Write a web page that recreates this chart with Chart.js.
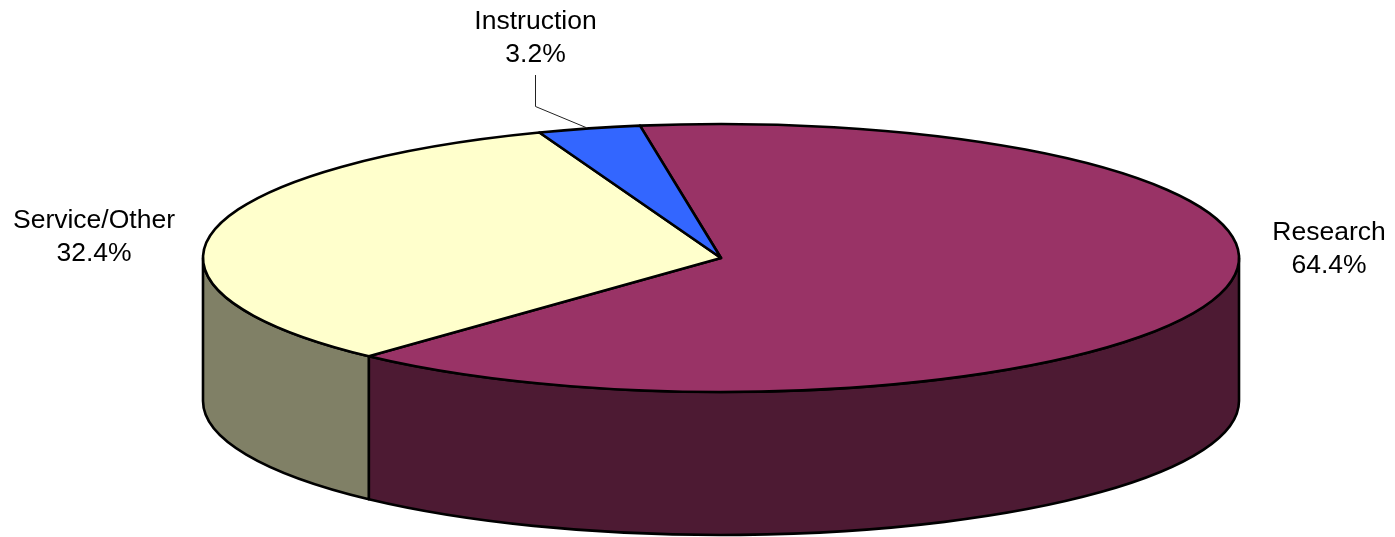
<!DOCTYPE html>
<html>
<head>
<meta charset="utf-8">
<title>Pie</title>
<script src="https://cdn.jsdelivr.net/npm/chart.js@4/dist/chart.umd.min.js"></script>
<style>
    html, body { margin: 0; padding: 0; background: #fff; }
    canvas { display: block; }
</style>
</head>
<body>
<canvas id="pie-chart" width="1395" height="537"></canvas>
<script>
const categories = ["Research", "Service/Other", "Instruction"];
const shares = [64.4, 32.4, 3.2];

const topColors = ["#993366", "#FFFFCC", "#3366FF"];
const sideColors = ["#4D1A33", "#808066", "#1A3380"];

// how the flat pie gets tipped over
const squash = 134 / 518;
const depth = 143;

// Chart.js has no 3D pie, so keep its arcs but paint them as ellipses
class TiltedPieController extends Chart.PieController {
    draw() {
        const ctx = this.chart.ctx;
        const arcs = this._cachedMeta.data;

        ctx.save();
        ctx.lineWidth = 2.6;
        ctx.lineJoin = "round";
        ctx.strokeStyle = "#000";

        arcs.forEach((arc, i) => {
            const ry = arc.outerRadius * squash;
            // only the part of the rim facing the viewer gets a wall
            for (let k = -1; k <= 1; k++) {
                const from = Math.max(arc.startAngle, 2 * Math.PI * k);
                const to = Math.min(arc.endAngle, Math.PI + 2 * Math.PI * k);
                if (from >= to) continue;
                ctx.beginPath();
                ctx.ellipse(arc.x, arc.y, arc.outerRadius, ry, 0, from, to);
                ctx.ellipse(arc.x, arc.y + depth, arc.outerRadius, ry, 0, to, from, true);
                ctx.closePath();
                ctx.fillStyle = sideColors[i];
                ctx.fill();
                ctx.stroke();
            }
        });

        arcs.forEach((arc) => {
            ctx.beginPath();
            ctx.moveTo(arc.x, arc.y);
            ctx.ellipse(arc.x, arc.y, arc.outerRadius, arc.outerRadius * squash, 0, arc.startAngle, arc.endAngle);
            ctx.closePath();
            ctx.fillStyle = arc.options.backgroundColor;
            ctx.fill();
            ctx.stroke();
        });
        ctx.restore();
    }
}
TiltedPieController.id = "tiltedPie";
TiltedPieController.defaults = {};
Chart.register(TiltedPieController);

const labelSpots = [
    { x: 1329, y: 233 },
    { x: 94, y: 221 },
    { x: 535.5, y: 22 }
];

const sliceLabels = {
    id: "sliceLabels",
    afterDraw(chart) {
        const ctx = chart.ctx;
        ctx.save();

        // leader line for the small slice
        ctx.beginPath();
        ctx.moveTo(535.5, 75);
        ctx.lineTo(535.5, 106.5);
        ctx.lineTo(586, 127.5);
        ctx.lineWidth = 1;
        ctx.strokeStyle = "#222";
        ctx.stroke();

        ctx.font = '26.5px "Liberation Sans"';
        ctx.fillStyle = "#000";
        ctx.textAlign = "center";
        ctx.textBaseline = "middle";
        categories.forEach((name, i) => {
            ctx.fillText(name, labelSpots[i].x, labelSpots[i].y);
            ctx.fillText(shares[i].toFixed(1) + "%", labelSpots[i].x, labelSpots[i].y + 33);
        });
        ctx.restore();
    }
};

new Chart(document.getElementById("pie-chart").getContext("2d"), {
    type: "tiltedPie",
    data: {
        labels: categories,
        datasets: [{
            data: shares,
            backgroundColor: topColors,
            borderWidth: 0
        }]
    },
    options: {
        responsive: false,
        animation: false,
        rotation: -9,
        radius: 518,
        layout: { padding: { left: 47, bottom: 21 } },
        plugins: {
            legend: { display: false },
            tooltip: { enabled: false }
        }
    },
    plugins: [sliceLabels]
});
</script>
</body>
</html>
